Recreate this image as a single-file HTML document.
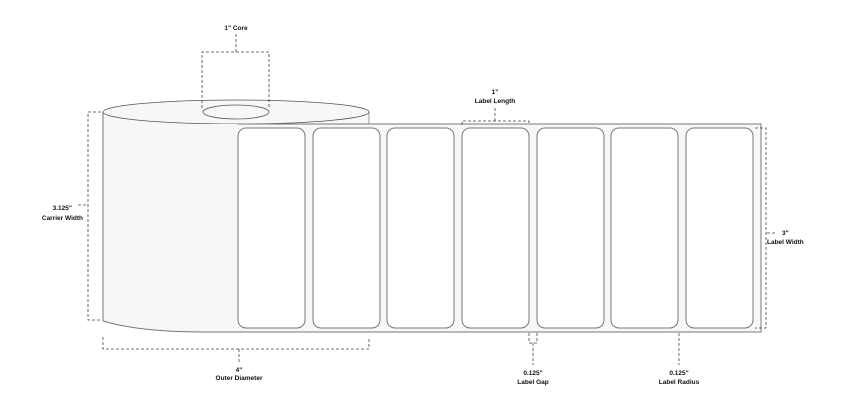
<!DOCTYPE html>
<html><head><meta charset="utf-8"><style>
html,body{margin:0;padding:0;background:#fff;}
svg text{font-family:"Liberation Sans",sans-serif;font-weight:bold;font-size:6.5px;fill:#111;}
</style></head><body>
<svg width="842" height="411" viewBox="0 0 842 411" xmlns="http://www.w3.org/2000/svg">
<path d="M103,112 L103,321 Q140,333 205,333 L238,333 L238,124 L369,124 L369,112 Z" fill="#f7f7f7" stroke="none"/>
<line x1="103" y1="112" x2="103" y2="321" stroke="#777" stroke-width="1"/>
<path d="M103,321 Q140,332 205,332" fill="none" stroke="#777" stroke-width="1"/>
<line x1="369" y1="112" x2="369" y2="124" stroke="#999" stroke-width="1"/>
<ellipse cx="236" cy="112" rx="133" ry="12" fill="#f7f7f7" stroke="#555" stroke-width="0.8"/>
<ellipse cx="236" cy="112" rx="33" ry="7" fill="#f7f7f7" stroke="#555" stroke-width="0.8"/>
<rect x="205" y="124" width="556" height="208" fill="#f7f7f7" stroke="none"/>
<path d="M205,332 L761,332 L761,124 L238,124" fill="none" stroke="#777" stroke-width="1"/>
<g fill="#fff" stroke="#777" stroke-width="1">
<rect x="238" y="128" width="67" height="200" rx="8"/>
<rect x="313" y="128" width="67" height="200" rx="8"/>
<rect x="387" y="128" width="67" height="200" rx="8"/>
<rect x="462" y="128" width="67" height="200" rx="8"/>
<rect x="537" y="128" width="67" height="200" rx="8"/>
<rect x="611" y="128" width="67" height="200" rx="8"/>
<rect x="686" y="128" width="67" height="200" rx="8"/>
</g>
<g fill="none" stroke="#444" stroke-width="0.8" stroke-dasharray="3,2">
<path d="M202,108 L202,52 L269,52 L269,108"/>
<path d="M236,52 L236,34"/>
<path d="M101,112 L88,112 L88,320 L101,320"/>
<path d="M78,205 L86,205"/>
<path d="M103,337 L103,349 L369,349 L369,337"/>
<path d="M239,349 L239,363"/>
<path d="M462,125 L462,121 L529,121 L529,125"/>
<path d="M495,121 L495,106"/>
<path d="M755,128 L766,128 L766,328 L755,328"/>
<path d="M767,233 L776,233"/>
<path d="M529,333 L529,343 L537,343 L537,333"/>
<path d="M533,343 L533,365"/>
<path d="M679,333 L679,365"/>
</g>
<text x="236" y="30" text-anchor="middle">1" Core</text>
<text x="72" y="210" text-anchor="end">3.125"</text>
<text x="83" y="220" text-anchor="end">Carrier Width</text>
<text x="239" y="372" text-anchor="middle">4"</text>
<text x="239" y="380" text-anchor="middle">Outer Diameter</text>
<text x="495" y="94" text-anchor="middle">1"</text>
<text x="495" y="103" text-anchor="middle">Label Length</text>
<text x="782" y="235">3"</text>
<text x="767" y="244">Label Width</text>
<text x="533" y="375" text-anchor="middle">0.125"</text>
<text x="533" y="384" text-anchor="middle">Label Gap</text>
<text x="679" y="375" text-anchor="middle">0.125"</text>
<text x="679" y="384" text-anchor="middle">Label Radius</text>
</svg>
</body></html>
